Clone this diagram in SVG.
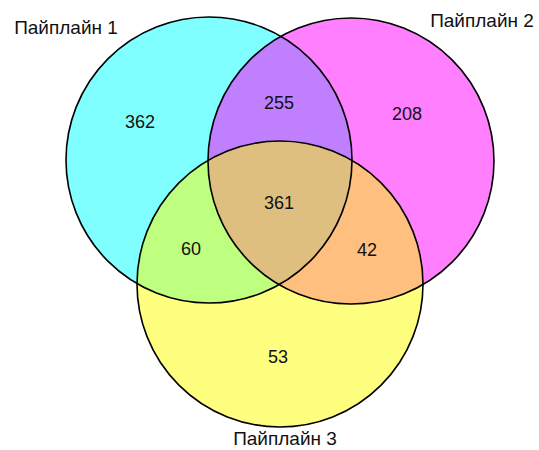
<svg xmlns="http://www.w3.org/2000/svg" width="539" height="450" viewBox="0 0 539 450">
<style>
.fill{stroke:none;fill-opacity:0.5}
.edge{fill:none;stroke:#000;stroke-width:1.6}
.num{font-family:"Liberation Sans",Arial,sans-serif;font-size:18px;fill:#111;text-anchor:middle}
.lbl{font-family:"Liberation Sans",Arial,sans-serif;font-size:19px;fill:#111;text-anchor:middle}
</style>
<rect width="539" height="450" fill="#fff"/>
<g id="fills">
<circle class="fill" cx="209" cy="160" r="143" fill="#00FFFF"/>
<circle class="fill" cx="351" cy="161" r="143" fill="#FF00FF"/>
<circle class="fill" cx="280" cy="284" r="143" fill="#FFFF00"/>
</g>
<g id="set1"><circle class="edge" cx="209" cy="160" r="143"/><text class="lbl" x="66" y="34">Пайплайн 1</text></g>
<g id="set2"><circle class="edge" cx="351" cy="161" r="143"/><text class="lbl" x="482" y="27">Пайплайн 2</text></g>
<g id="set3"><circle class="edge" cx="280" cy="284" r="143"/><text class="lbl" x="285" y="445">Пайплайн 3</text></g>
<g id="counts">
<text class="num" x="140" y="128">362</text>
<text class="num" x="279" y="109">255</text>
<text class="num" x="407" y="120">208</text>
<text class="num" x="279" y="209">361</text>
<text class="num" x="191" y="255">60</text>
<text class="num" x="367" y="256">42</text>
<text class="num" x="278" y="363">53</text>
</g>
<g id="connectors"></g>
</svg>
